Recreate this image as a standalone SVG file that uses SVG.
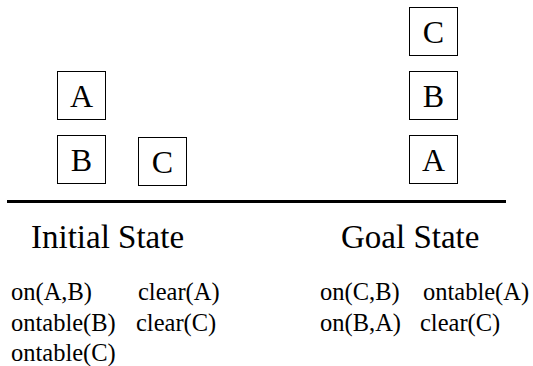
<svg xmlns="http://www.w3.org/2000/svg" width="533" height="366" viewBox="0 0 533 366">
  <style>
    text { font-family: "Liberation Serif", "Times New Roman", Times, "Nimbus Roman", "DejaVu Serif", serif; fill: #000000; }
    .block rect { fill: #ffffff; stroke: #000000; stroke-width: 1; }
    .block text { font-size: 32px; text-anchor: middle; }
    .title { font-size: 33px; }
    .fact { font-size: 24.5px; }
  </style>
  <rect x="0" y="0" width="533" height="366" fill="#ffffff"/>

  <!-- initial state blocks -->
  <g id="init-A" class="block"><rect x="57.5" y="71.5" width="48" height="48"/><text x="81.5" y="107">A</text></g>
  <g id="init-B" class="block"><rect x="57.5" y="135.5" width="48" height="48"/><text x="81.5" y="171">B</text></g>
  <g id="init-C" class="block"><rect x="138.5" y="137.5" width="48" height="48"/><text x="162.5" y="173">C</text></g>

  <!-- goal state blocks -->
  <g id="goal-C" class="block"><rect x="409.5" y="7.5" width="48" height="48"/><text x="433.5" y="43">C</text></g>
  <g id="goal-B" class="block"><rect x="409.5" y="71.5" width="48" height="48"/><text x="433.5" y="107">B</text></g>
  <g id="goal-A" class="block"><rect x="409.5" y="135.5" width="48" height="48"/><text x="433.5" y="171">A</text></g>

  <!-- table top -->
  <g id="table"><line x1="7" y1="201.5" x2="506" y2="201.5" stroke="#000000" stroke-width="3"/></g>

  <!-- headings -->
  <g id="headings">
    <text class="title" x="31" y="248">Initial State</text>
    <text class="title" x="341" y="248">Goal State</text>
  </g>

  <!-- predicate lists -->
  <g id="init-facts">
    <text class="fact" x="11" y="300">on(A,B)</text>
    <text class="fact" x="138" y="300">clear(A)</text>
    <text class="fact" x="11" y="330.5">ontable(B)</text>
    <text class="fact" x="136" y="330.5">clear(C)</text>
    <text class="fact" x="11" y="361">ontable(C)</text>
  </g>
  <g id="goal-facts">
    <text class="fact" x="320" y="300">on(C,B)</text>
    <text class="fact" x="423" y="300">ontable(A)</text>
    <text class="fact" x="320" y="330.5">on(B,A)</text>
    <text class="fact" x="420" y="330.5">clear(C)</text>
  </g>
</svg>
